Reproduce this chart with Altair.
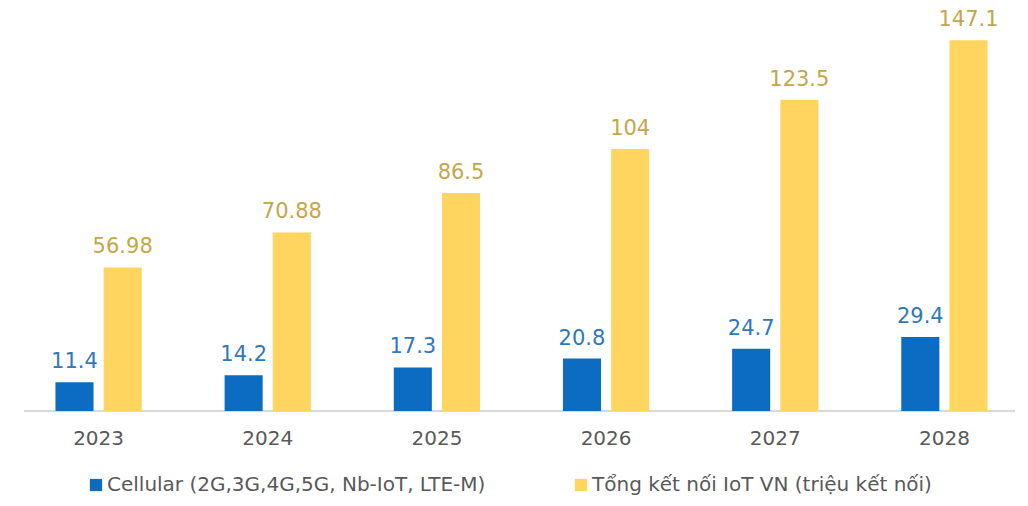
import altair as alt
import pandas as pd

years = ["2023", "2024", "2025", "2026", "2027", "2028"]
cellular = [11.4, 14.2, 17.3, 20.8, 24.7, 29.4]
total = [56.98, 70.88, 86.5, 104, 123.5, 147.1]
series_names = ["Cellular (2G,3G,4G,5G, Nb-IoT, LTE-M)", "Tổng kết nối IoT VN (triệu kết nối)"]
bar_colors = ["#0B6CC1", "#FFD55F"]
label_colors = ["#2E78BC", "#C4A64A"]

rows = []
for i, y in enumerate(years):
    for s, vals in enumerate([cellular, total]):
        rows.append({"year": y, "series": series_names[s], "order": s,
                     "value": vals[i], "label": f"{vals[i]:g}"})
df = pd.DataFrame(rows)

FONT = "DejaVu Sans"
W, H = 1000, 378

x = alt.X("year:N", sort=years, title=None,
          scale=alt.Scale(range=[0, 1015], paddingInner=0, paddingOuter=0),
          axis=alt.Axis(labelAngle=0, labelFont=FONT, labelFontSize=20, labelColor="#595959",
                        ticks=False, domain=False, labelPadding=17))
xo = alt.XOffset("series:N", sort=series_names,
                 scale=alt.Scale(paddingInner=0.21, paddingOuter=0.86))
y = alt.Y("value:Q", scale=alt.Scale(domain=[0, 150]), axis=None)

bars = alt.Chart(df).mark_bar().encode(
    x=x, xOffset=xo, y=y,
    color=alt.Color("series:N", sort=series_names,
                    scale=alt.Scale(domain=series_names, range=bar_colors),
                    legend=alt.Legend(title=None, orient="none", direction="horizontal",
                                      legendX=72, legendY=H + 64,
                                      symbolType="square", symbolSize=150, symbolStrokeWidth=0,
                                      labelFont=FONT, labelFontSize=20, labelColor="#595959",
                                      columnPadding=85, labelOffset=1, labelLimit=600)),
)

labels = alt.Chart(df).mark_text(font=FONT, fontSize=21, baseline="alphabetic", dy=-14).encode(
    x=x, xOffset=xo, y=y, text="label:N",
    color=alt.Color("series:N", sort=series_names,
                    scale=alt.Scale(domain=series_names, range=label_colors), legend=None),
)

base = alt.Chart(pd.DataFrame({"a": [0]})).mark_rule(color="#D9D9D9", strokeWidth=2).encode(
    x=alt.value(10), x2=alt.value(1001), y=alt.value(H))

chart = alt.layer(base, bars, labels).resolve_scale(color="independent").properties(
    width=W, height=H,
    autosize=alt.AutoSizeParams(type="none"),
    padding={"left": 6, "top": 25, "right": 6, "bottom": 87},
    background="white",
).configure_view(stroke=None, strokeWidth=0)

chart.save("out.html", embed_options={"renderer": "svg", "actions": False})
